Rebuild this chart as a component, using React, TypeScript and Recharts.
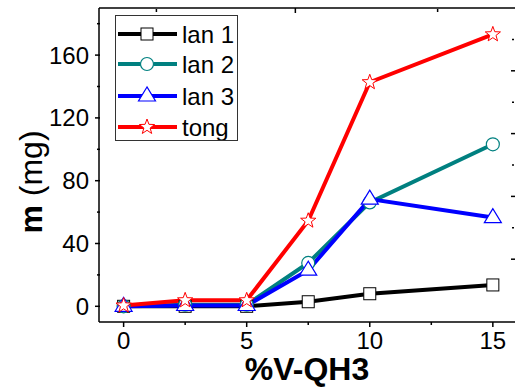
import React from 'react';
import { LineChart, Line, XAxis, YAxis, Legend, Label } from 'recharts';

// Percent of V-QH3 added
const xValues = [0, 2.5, 5, 7.5, 10, 15];
// Mass (mg) per run
const lan1 = [0, 0, 0, 2.9, 8, 13.6];
const lan2 = [0, 1, 1, 27.6, 66.2, 103.2];
const lan3 = [0, 0.5, 0.5, 23, 68.3, 56.5];
const tong = [0.5, 3.8, 3.8, 54.5, 142.7, 173.2];

const seriesNames = ['lan 1', 'lan 2', 'lan 3', 'tong'];
const seriesKeys = ['lan1', 'lan2', 'lan3', 'tong'];
const seriesColors = ['#000000', '#008080', '#0000ff', '#ff0000'];

// Axis ticks
const xMajorTicks = [0, 5, 10, 15];
const xMinorTicks = [2.5, 7.5, 12.5];
const yMajorTicks = [0, 40, 80, 120, 160];
const yMinorTicks = [20, 60, 100, 140, 180];
const topLongTicks = [2.36, 5.77, 9.19, 12.6];
const topShortTicks = [0.69, 4.07, 7.48, 10.9, 14.27];
const rightLongTicks = [30, 70, 110, 150];
const rightShortTicks = [50, 90, 130, 170];

const xDomain: [number, number] = [-1, 15.9];
const yDomain: [number, number] = [-10, 190];

const data = xValues.map((x, i) => ({
  x,
  lan1: lan1[i],
  lan2: lan2[i],
  lan3: lan3[i],
  tong: tong[i],
}));

const FONT = '"Liberation Sans", Arial, sans-serif';
const TICK_SIZE = 5;
const MINOR_SIZE = 3;
const TICK_MARGIN = 5;

function starPoints(cx: number, cy: number, R: number, r: number) {
  const pts: string[] = [];
  for (let k = 0; k < 10; k++) {
    const rad = k % 2 === 0 ? R : r;
    const a = -Math.PI / 2 + (k * Math.PI) / 5;
    pts.push(`${cx + rad * Math.cos(a)},${cy + rad * Math.sin(a)}`);
  }
  return pts.join(' ');
}

function Marker({ kind, cx, cy }: { kind: number; cx: number; cy: number }) {
  if (kind === 0) {
    return <rect x={cx - 6} y={cy - 6} width={12} height={12} fill="#fff" stroke="#000" strokeWidth={1} />;
  }
  if (kind === 1) {
    return <circle cx={cx} cy={cy} r={6.5} fill="#fff" stroke="#008080" strokeWidth={1.2} />;
  }
  if (kind === 2) {
    return (
      <polygon
        points={`${cx},${cy - 9} ${cx - 8.5},${cy + 5} ${cx + 8.5},${cy + 5}`}
        fill="#fff"
        stroke="#0000ff"
        strokeWidth={1.2}
      />
    );
  }
  return <polygon points={starPoints(cx, cy, 8, 3.3)} fill="#fff" stroke="#ff0000" strokeWidth={1} />;
}

const makeDot = (kind: number) => (props: any) => (
  <g key={`m-${kind}-${props.index}`}>
    <Marker kind={kind} cx={props.cx} cy={props.cy} />
  </g>
);

// Bottom axis tick: long tick + label for majors, short tick only for minors
function XTick(props: any) {
  const { x, y, payload } = props;
  const v = payload.value;
  const major = xMajorTicks.includes(v);
  const ay = y - TICK_SIZE - TICK_MARGIN;
  return (
    <g>
      <line x1={x} x2={x} y1={ay} y2={ay + (major ? TICK_SIZE : MINOR_SIZE)} stroke="#000" strokeWidth={1.5} />
      {major && (
        <text x={x} y={y} dy="0.71em" textAnchor="middle" fontSize={24} fontFamily={FONT} fill="#000">
          {v}
        </text>
      )}
    </g>
  );
}

// Left axis tick
function YTick(props: any) {
  const { x, y, payload } = props;
  const v = payload.value;
  const major = yMajorTicks.includes(v);
  const ax = x + TICK_SIZE + TICK_MARGIN + 1;
  return (
    <g>
      <line x1={ax} x2={ax - (major ? TICK_SIZE : MINOR_SIZE)} y1={y} y2={y} stroke="#000" strokeWidth={1.5} />
      {major && (
        <text x={x} y={y} dy="0.355em" textAnchor="end" fontSize={24} fontFamily={FONT} fill="#000">
          {v}
        </text>
      )}
    </g>
  );
}

function LegendBox() {
  const rowY = [18, 48, 80, 111];
  return (
    <div
      style={{
        width: 123,
        height: 126,
        border: '1px solid #333',
        boxSizing: 'border-box',
        background: '#fff',
      }}
    >
      <svg width={121} height={124}>
        {seriesNames.map((name, i) => (
          <g key={name}>
            <line x1={2} x2={61} y1={rowY[i]} y2={rowY[i]} stroke={seriesColors[i]} strokeWidth={4} />
            <Marker kind={i} cx={31} cy={rowY[i]} />
            <text x={66} y={rowY[i] + 8.5} fontSize={24} fontFamily={FONT} fill="#000">
              {name}
            </text>
          </g>
        ))}
      </svg>
    </div>
  );
}

const axisStroke = { stroke: '#000', strokeWidth: 1.5 };
const blank = () => '';

export default function App() {
  return (
    <div style={{ position: 'absolute', left: 0, top: 0, background: '#fff' }}>
      <LineChart width={515} height={391} data={data} margin={{ top: 8, right: 0, bottom: 0, left: 0 }}>
        <XAxis
          dataKey="x"
          type="number"
          domain={xDomain}
          ticks={[...xMajorTicks, ...xMinorTicks]}
          interval={0}
          height={69}
          tickSize={TICK_SIZE}
          tickMargin={TICK_MARGIN}
          tick={<XTick />}
          axisLine={axisStroke}
          tickLine={false}
          label={
            <Label
              content={() => (
                <text x={307} y={380} textAnchor="middle" fontSize={32} fontWeight="bold" fontFamily={FONT} fill="#000">
                  %V-QH3
                </text>
              )}
            />
          }
        />
        <XAxis
          xAxisId="toplong"
          orientation="top"
          mirror
          type="number"
          domain={xDomain}
          allowDataOverflow
          ticks={topLongTicks}
          interval={0}
          height={1}
          tickSize={5}
          tickFormatter={blank}
          axisLine={axisStroke}
          tickLine={axisStroke}
        />
        <XAxis
          xAxisId="topshort"
          orientation="top"
          mirror
          type="number"
          domain={xDomain}
          allowDataOverflow
          ticks={topShortTicks}
          interval={0}
          height={1}
          tickSize={3}
          tickFormatter={blank}
          axisLine={false}
          tickLine={axisStroke}
        />
        <YAxis
          type="number"
          domain={yDomain}
          ticks={[...yMajorTicks, ...yMinorTicks]}
          interval={0}
          width={99}
          tickSize={TICK_SIZE}
          tickMargin={TICK_MARGIN}
          tick={<YTick />}
          axisLine={axisStroke}
          tickLine={false}
          label={
            <Label
              content={() => (
                <text
                  x={42}
                  y={182}
                  transform="rotate(-90, 42, 182)"
                  textAnchor="middle"
                  fontSize={32}
                  fontFamily={FONT}
                  fill="#000"
                >
                  <tspan fontWeight="bold">m</tspan>
                  <tspan> (mg)</tspan>
                </text>
              )}
            />
          }
        />
        <YAxis
          yAxisId="rightlong"
          orientation="right"
          mirror
          type="number"
          domain={yDomain}
          allowDataOverflow
          ticks={rightLongTicks}
          interval={0}
          width={1}
          tickSize={4}
          tickFormatter={blank}
          axisLine={false}
          tickLine={axisStroke}
        />
        <YAxis
          yAxisId="rightshort"
          orientation="right"
          mirror
          type="number"
          domain={yDomain}
          allowDataOverflow
          ticks={rightShortTicks}
          interval={0}
          width={1}
          tickSize={2}
          tickFormatter={blank}
          axisLine={false}
          tickLine={axisStroke}
        />
        <Legend
          layout="vertical"
          align="center"
          verticalAlign="middle"
          wrapperStyle={{ position: 'absolute', left: 115, top: 15, width: 123, height: 126 }}
          content={() => <LegendBox />}
        />
        {seriesKeys.map((key, i) => (
          <Line
            key={key}
            dataKey={key}
            name={seriesNames[i]}
            stroke={seriesColors[i]}
            strokeWidth={4}
            dot={makeDot(i)}
            activeDot={false}
            isAnimationActive={false}
          />
        ))}
      </LineChart>
    </div>
  );
}
